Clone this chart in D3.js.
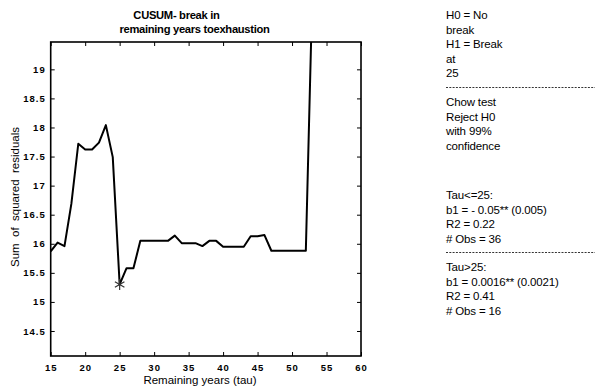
<!DOCTYPE html>
<html>
<head>
<meta charset="utf-8">
<script src="https://cdn.jsdelivr.net/npm/d3@7"></script>
<style>
  html, body { margin: 0; padding: 0; background: #fff; }
  svg { display: block; font-family: "Liberation Sans", Arial, sans-serif; }
</style>
</head>
<body>
<svg id="chart" width="595" height="386"></svg>
<script>
// Break point candidates tau and the resulting sum of squared residuals
const tau = [15,16,17,18,19,20,21,22,23,24,25,26,27,28,29,30,31,32,33,34,35,36,37,38,39,40,41,42,43,44,45,46,47,48,49,50,51,52,53];
const ssr = [15.87,16.02,15.96,16.69,17.72,17.62,17.62,17.74,18.04,17.49,15.30,15.58,15.58,16.05,16.05,16.05,16.05,16.05,16.14,16.01,16.01,16.01,15.96,16.05,16.05,15.95,15.95,15.95,15.95,16.13,16.13,16.15,15.88,15.88,15.88,15.88,15.88,15.88,20.6];
const breakTau = 25;
const breakSsr = 15.30;

const xTicks = [15,20,25,30,35,40,45,50,55,60];
const yTicks = [14.5,15,15.5,16,16.5,17,17.5,18,18.5,19];

const titleLines = ["CUSUM- break in", "remaining years toexhaustion"];
const notesTop = ["H0 = No", "break", "H1 = Break", "at", "25"];
const notesChow = ["Chow test", "Reject H0", "with 99%", "confidence"];
const notesBefore = ["Tau<=25:", "b1 = - 0.05** (0.005)", "R2 = 0.22", "# Obs = 36"];
const notesAfter = ["Tau>25:", "b1 = 0.0016** (0.0021)", "R2 = 0.41", "# Obs = 16"];

const svg = d3.select("#chart");
const plot = { left: 50.7, right: 361, top: 42, bottom: 356 };

const x = d3.scaleLinear().domain([15, 60]).range([plot.left, plot.right]);
const y = d3.scaleLinear().domain([14.07, 19.47]).range([plot.bottom, plot.top]);

svg.append("defs").append("clipPath").attr("id", "plotClip")
  .append("rect")
  .attr("x", plot.left).attr("y", plot.top)
  .attr("width", plot.right - plot.left).attr("height", plot.bottom - plot.top);

// Axes with inward ticks on all four sides
const tickFont = g => g.selectAll("text")
  .attr("font-size", 9.5).attr("font-weight", "bold")
  .attr("letter-spacing", "1px").attr("fill", "#000")
  .attr("font-family", "Liberation Sans, Arial, sans-serif");

const bottomAxis = svg.append("g")
  .attr("transform", `translate(0,${plot.bottom})`)
  .call(d3.axisBottom(x).tickValues(xTicks).tickSizeInner(-4).tickSizeOuter(0).tickPadding(8).tickFormat(d3.format("d")));
bottomAxis.call(tickFont);

const leftAxis = svg.append("g")
  .attr("transform", `translate(${plot.left},0)`)
  .call(d3.axisLeft(y).tickValues(yTicks).tickSizeInner(-4).tickSizeOuter(0).tickPadding(5).tickFormat(d => String(d)));
leftAxis.call(tickFont);

svg.append("g")
  .attr("transform", `translate(0,${plot.top})`)
  .call(d3.axisTop(x).tickValues(xTicks).tickSizeInner(-4).tickSizeOuter(0).tickFormat(""));
svg.append("g")
  .attr("transform", `translate(${plot.right},0)`)
  .call(d3.axisRight(y).tickValues(yTicks).tickSizeInner(-4).tickSizeOuter(0).tickFormat(""));

svg.selectAll(".domain").remove();
svg.selectAll(".tick line").attr("stroke", "#000").attr("stroke-width", 1);

// Plot frame
svg.append("rect")
  .attr("x", plot.left).attr("y", plot.top)
  .attr("width", plot.right - plot.left).attr("height", plot.bottom - plot.top)
  .attr("fill", "none").attr("stroke", "#000").attr("stroke-width", 1.6);

// SSR curve
const line = d3.line().x((d, i) => x(tau[i])).y(d => y(d));
svg.append("path")
  .datum(ssr)
  .attr("clip-path", "url(#plotClip)")
  .attr("d", line)
  .attr("fill", "none").attr("stroke", "#000").attr("stroke-width", 2)
  .attr("stroke-linejoin", "round");

// Minimum marker
svg.append("path")
  .attr("d", d3.symbol().type(d3.symbolAsterisk).size(85)())
  .attr("transform", `translate(${x(breakTau)},${y(breakSsr)})`)
  .attr("fill", "none").attr("stroke", "#333").attr("stroke-width", 1.2);

// Title
svg.append("text").attr("x", 176.5).attr("y", 19)
  .attr("text-anchor", "middle").attr("font-size", 11.2).attr("font-weight", "bold")
  .attr("letter-spacing", "-0.3px").text(titleLines[0]);
svg.append("text").attr("x", 194.5).attr("y", 33)
  .attr("text-anchor", "middle").attr("font-size", 11.2).attr("font-weight", "bold")
  .attr("letter-spacing", "-0.3px").text(titleLines[1]);

// Axis titles
svg.append("text").attr("x", 200).attr("y", 384)
  .attr("text-anchor", "middle").attr("font-size", 11.5).text("Remaining years (tau)");
svg.append("text")
  .attr("transform", `translate(19,${(plot.top + plot.bottom) / 2 - 2}) rotate(-90)`)
  .attr("text-anchor", "middle").attr("font-size", 11.5)
  .attr("xml:space", "preserve").style("white-space", "pre")
  .text("Sum  of  squared  residuals");

// Notes panel
const notesX = 446;
function notes(lines, y0) {
  svg.append("g").selectAll("text").data(lines).join("text")
    .attr("x", notesX).attr("y", (d, i) => y0 + i * 14.6)
    .attr("font-size", 11.5).attr("letter-spacing", "-0.15px")
    .attr("fill", "#000").text(d => d);
}
notes(notesTop, 19);
notes(notesChow, 106);
notes(notesBefore, 199);
notes(notesAfter, 271);

function dashed(yPos) {
  svg.append("line")
    .attr("x1", notesX).attr("x2", 595).attr("y1", yPos).attr("y2", yPos)
    .attr("stroke", "#000").attr("stroke-width", 0.8).attr("stroke-dasharray", "2,1.3");
}
dashed(87.5);
dashed(252.5);
</script>
</body>
</html>
